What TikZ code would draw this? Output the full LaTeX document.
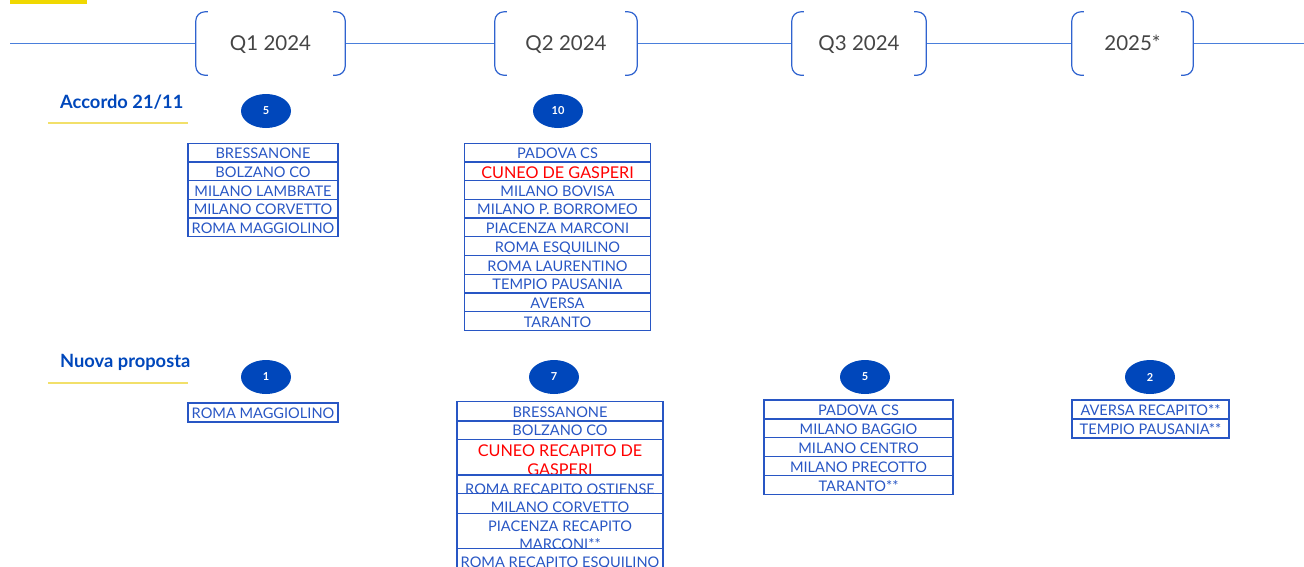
\documentclass[tikz,border=0pt]{standalone}
\usepackage{fontspec}
\setmainfont{Lato}
\usetikzlibrary{shapes.geometric}
\definecolor{pblue}{HTML}{0047BB}
\definecolor{lblue}{HTML}{4A7FDB}
\definecolor{bblue}{HTML}{2F63CF}
\definecolor{tblue}{HTML}{2856C4}
\definecolor{pyellow}{HTML}{F0D800}
\definecolor{lyellow}{HTML}{F2E06A}
\definecolor{tgray}{HTML}{454545}
\begin{document}
\begin{tikzpicture}[x=1pt,y=-1pt,
  cell/.style={draw=tblue, line width=1.3pt, inner sep=0pt, outer sep=0pt},
  ctext/.style={text=tblue, font=\fontsize{14.6}{16}\selectfont, inner sep=0pt, text height=10.4pt, text depth=0pt},
  rtext/.style={text=red, font=\fontsize{16.2}{18}\selectfont, inner sep=0pt, text height=11.6pt, text depth=0pt},
  badge/.style={ellipse, fill=pblue, minimum width=50pt, minimum height=34pt, inner sep=0pt, text=white, font=\bfseries\fontsize{11}{12}\selectfont},
  period/.style={minimum width=#1, minimum height=63pt, inner sep=0pt, text=tgray, text height=14.6pt, text depth=0pt, font=\fontsize{20.5}{23}\selectfont},
  bracket/.style={draw=bblue, line width=1.2pt, rounded corners=9pt},
  tline/.style={draw=lblue, line width=1pt},
  rowlabel/.style={anchor=west, inner sep=0pt, text=pblue, font=\bfseries\fontsize{18.3}{20}\selectfont},
  uline/.style={draw=lyellow, line width=1.2pt}]
\useasboundingbox (0,0) rectangle (1304,566);
\clip (0,0) rectangle (1304,566);
% top yellow bar
\fill[pyellow] (10,0) rectangle (87,4.3);
% periods
\node[period=149pt] (q1) at (270.5,43.5) {Q1 2024};
\node[period=142pt] (q2) at (566,43.5) {Q2 2024};
\node[period=134pt] (q3) at (859,43.5) {Q3 2024};
\node[period=121pt] (q4) at (1132.5,43.5) {2025*};
\coordinate (tstart) at (10,43.5);
\coordinate (tend) at (1304,43.5);
\draw[tline] (tstart) -- (q1.west);
\draw[tline] (q1.east) -- (q2.west);
\draw[tline] (q2.east) -- (q3.west);
\draw[tline] (q3.east) -- (q4.west);
\draw[tline] (q4.east) -- (tend);
\foreach \q in {q1,q2,q3,q4}{
  \draw[bracket] ([xshift=12pt]\q.north west) -- (\q.north west) -- (\q.south west) -- ([xshift=12pt]\q.south west);
  \draw[bracket] ([xshift=-12pt]\q.north east) -- (\q.north east) -- (\q.south east) -- ([xshift=-12pt]\q.south east);
}
% row labels
\node[rowlabel] (lab1) at (60,102.5) {Accordo 21/11};
\coordinate (u1a) at (48,123); \coordinate (u1b) at (188,123);
\draw[uline] (u1a) -- (u1b);
\node[rowlabel] (lab2) at (60,362.5) {Nuova proposta};
\coordinate (u2a) at (48,383); \coordinate (u2b) at (188,383);
\draw[uline] (u2a) -- (u2b);
% badges
\node[badge] (b11) at (266,111) {5};
\node[badge] (b12) at (558,111) {10};
\node[badge] (b21) at (266,377) {1};
\node[badge] (b22) at (554,377) {7};
\node[badge] (b23) at (865,377) {5};
\node[badge] (b24) at (1150,377) {2};
% table row1 Q1
\foreach \t [count=\i] in {BRESSANONE, BOLZANO CO, MILANO LAMBRATE, MILANO CORVETTO, ROMA MAGGIOLINO}{
  \node[cell, minimum width=150pt, minimum height=18.7pt] (a1\i) at (263,{143.3+18.7*(\i-0.5)}) {};
  \node[ctext] at ([yshift=-1pt]a1\i.center) {\t};
}
% table row1 Q2
\foreach \t/\s [count=\i] in {PADOVA CS/ctext, CUNEO DE GASPERI/rtext, MILANO BOVISA/ctext, MILANO P. BORROMEO/ctext, PIACENZA MARCONI/ctext, ROMA ESQUILINO/ctext, ROMA LAURENTINO/ctext, TEMPIO PAUSANIA/ctext, AVERSA/ctext, TARANTO/ctext}{
  \node[cell, minimum width=186pt, minimum height=18.7pt] (a2\i) at (557.5,{143.3+18.7*(\i-0.5)}) {};
  \node[\s] at ([yshift=-1pt]a2\i.center) {\t};
}
% table row2 Q1
\node[cell, minimum width=150pt, minimum height=19pt] (n11) at (263,412.5) {};
\node[ctext] at ([yshift=-1pt]n11.center) {ROMA MAGGIOLINO};
% table row2 Q2
\node[cell, minimum width=206pt, minimum height=19.3pt] (n21) at (560,411.35) {};
\node[ctext] at (560,411.8) {BRESSANONE};
\node[cell, minimum width=206pt, minimum height=18.3pt] (n22) at (560,430.15) {};
\node[ctext] at (560,430.3) {BOLZANO CO};
\node[cell, minimum width=206pt, minimum height=35.7pt] (n23) at (560,457.15) {};
\node[rtext] at (560,450.3) {CUNEO RECAPITO DE};
\node[rtext] at (560,469.3) {GASPERI};
\node[cell, minimum width=206pt, minimum height=18.3pt] (n24) at (560,484.15) {};
\node[ctext] at (560,488.8) {ROMA RECAPITO OSTIENSE};
\node[cell, minimum width=206pt, minimum height=20pt] (n25) at (560,503.3) {};
\node[ctext] at (560,507.3) {MILANO CORVETTO};
\node[cell, minimum width=206pt, minimum height=35pt] (n26) at (560,530.8) {};
\node[ctext] at (560,525.8) {PIACENZA RECAPITO};
\node[ctext] at (560,544.3) {MARCONI**};
\node[cell, minimum width=206pt, minimum height=30pt] (n27) at (560,563.3) {};
\node[ctext] at (560,562.3) {ROMA RECAPITO ESQUILINO};
% table row2 Q3
\foreach \t [count=\i] in {PADOVA CS, MILANO BAGGIO, MILANO CENTRO, MILANO PRECOTTO, TARANTO**}{
  \node[cell, minimum width=189pt, minimum height=18.85pt] (n3\i) at (858.5,{400+18.85*(\i-0.5)}) {};
  \node[ctext] at ([yshift=-1pt]n3\i.center) {\t};
}
% table row2 2025
\foreach \t [count=\i] in {AVERSA RECAPITO**, TEMPIO PAUSANIA**}{
  \node[cell, minimum width=157pt, minimum height=19pt] (n4\i) at (1150.5,{400+19*(\i-0.5)}) {};
  \node[ctext] at ([yshift=-1pt]n4\i.center) {\t};
}
\end{tikzpicture}
\end{document}
